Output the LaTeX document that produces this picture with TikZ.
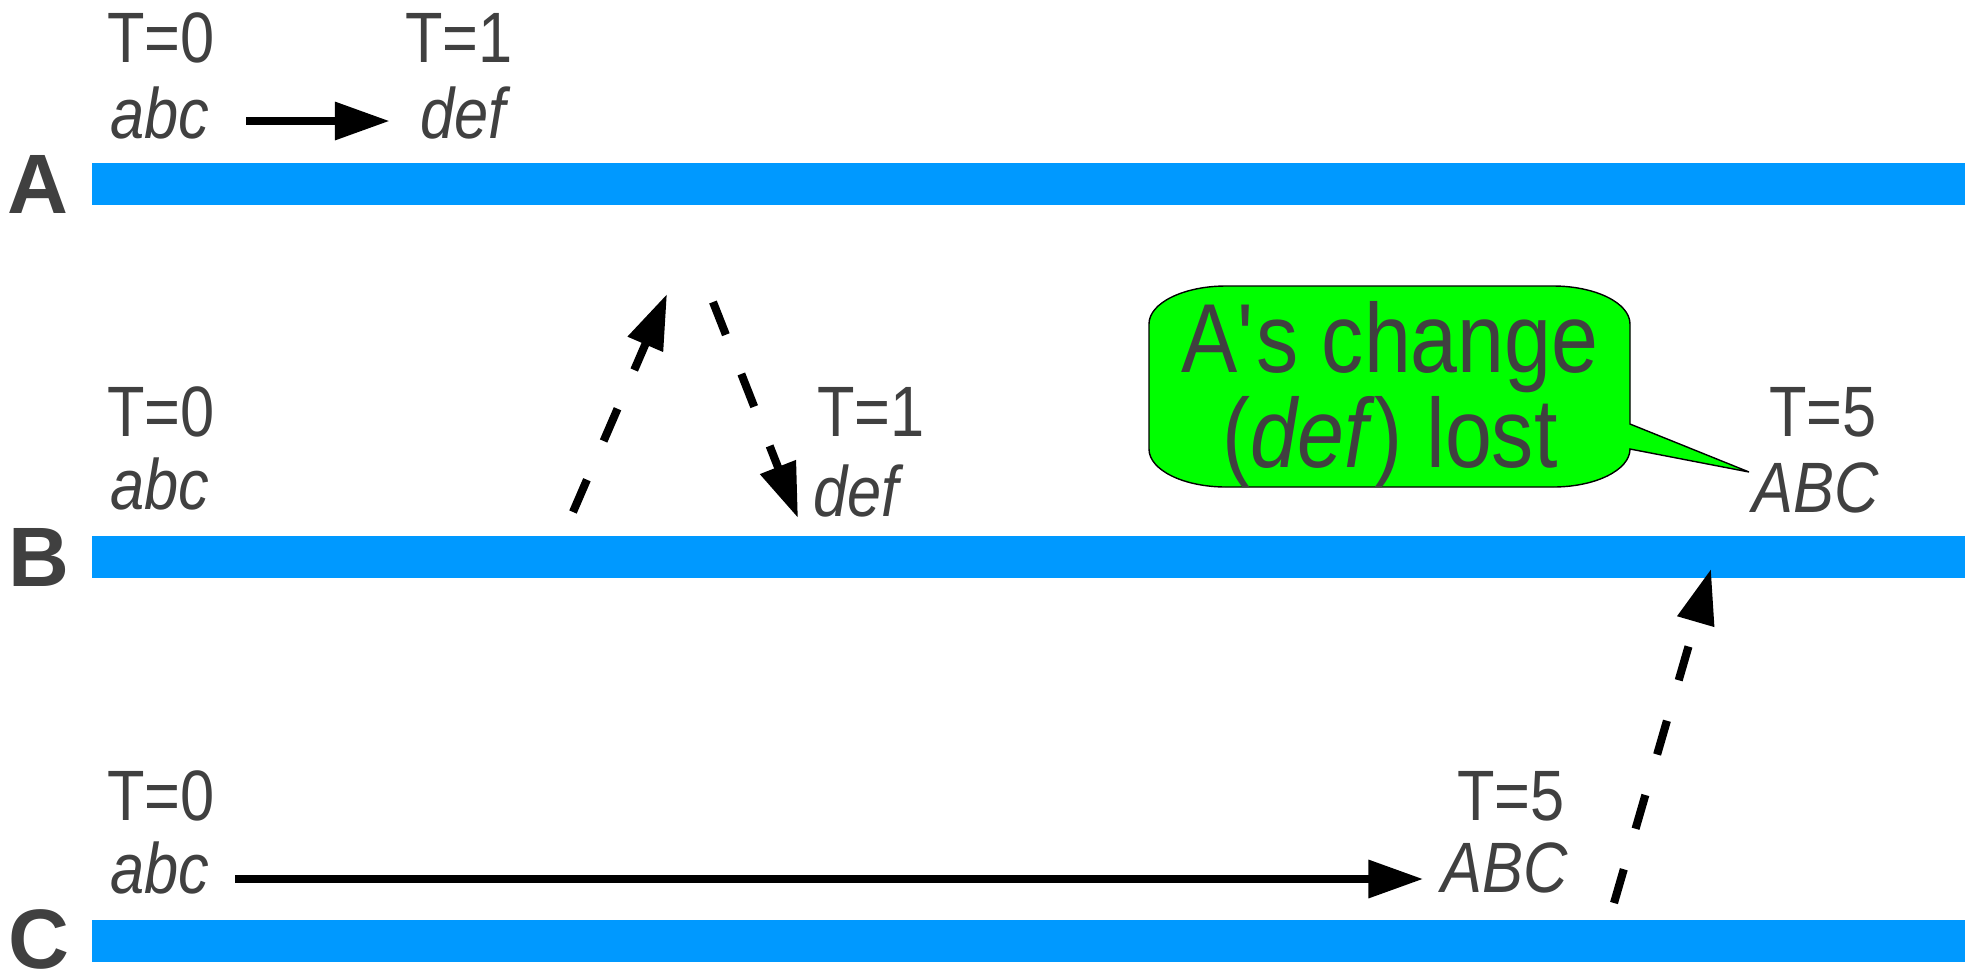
\documentclass[tikz,border=0pt]{standalone}
\usepackage{fontspec}
\setmainfont{Liberation Sans}
\newfontfamily\narrowsans[FakeStretch=0.86]{Liberation Sans}
\usetikzlibrary{arrows.meta}

\definecolor{lanecol}{HTML}{0099FF}
\definecolor{txtcol}{HTML}{404040}
\definecolor{notecol}{HTML}{00FF00}

\tikzset{
  lbl/.style={inner sep=0pt, text=txtcol, font=\narrowsans\fontsize{20.3}{22}\selectfont},
  val/.style={inner sep=0pt, text=txtcol, font=\narrowsans\fontsize{20.3}{22}\selectfont\itshape},
  host/.style={inner sep=0pt, text=txtcol, font=\fontsize{24}{26}\selectfont\bfseries},
  lane/.style={fill=lanecol},
  update/.style={line width=2.3pt, -{Triangle[length=15.6pt,width=10.4pt]}},
  sync/.style={line width=2.3pt, dash pattern=on 10pt off 12pt, -{Triangle[length=15.6pt,width=10.4pt]}},
  notetext/.style={inner sep=0pt, text=txtcol, align=center, font=\narrowsans\fontsize{27.9}{22.5}\selectfont},
}

\begin{document}
\begin{tikzpicture}
        \useasboundingbox (0,0) rectangle (19.73,-9.72);

        % the three replicas
        \fill[lane] (0.92,-1.63) rectangle (19.65,-2.05);
        \fill[lane] (0.92,-5.36) rectangle (19.65,-5.78);
        \fill[lane] (0.92,-9.20) rectangle (19.65,-9.62);
        \node[host](hostA) at (0.375,-1.845) {A};
        \node[host](hostB) at (0.39,-5.575) {B};
        \node[host](hostC) at (0.385,-9.39) {C};

        % replica A
        \node[lbl](tA0) at (1.61,-0.38) {T=0};
        \node[val](abcA) at (1.60,-1.13) {abc};
        \node[lbl](tA1) at (4.59,-0.38) {T=1};
        \node[val](defA) at (4.63,-1.13) {def};

        % replica B
        \node[lbl](tB0) at (1.61,-4.12) {T=0};
        \node[val](abcB) at (1.60,-4.84) {abc};
        \node[lbl](tB1) at (8.71,-4.12) {T=1};
        \node[val](defB) at (8.56,-4.91) {def};
        \node[lbl](tB5) at (18.23,-4.12) {T=5};
        \node[val](abcBig) at (18.16,-4.88) {ABC};

        % replica C
        \node[lbl](tC0) at (1.61,-7.96) {T=0};
        \node[val](abcC) at (1.60,-8.68) {abc};
        \node[lbl](tC5) at (15.11,-7.96) {T=5};
        \node[val](ABCc) at (15.05,-8.68) {ABC};

        \draw[update, shorten <=0.36cm, shorten >=0.30cm] ([yshift=-0.08cm]abcA.east) -- ([yshift=-0.08cm]defA.west);
        \draw[update, shorten <=0.25cm, shorten >=0.18cm] ([yshift=-0.11cm]abcC.east) -- ([yshift=-0.11cm]ABCc.west);

        \coordinate (bOut) at (5.73,-5.12);
        \coordinate (aIn) at (6.67,-2.94);
        \coordinate (aOut) at (7.13,-3.02);
        \coordinate (bIn) at (7.98,-5.18);
        \coordinate (cOut) at (16.14,-9.03);
        \coordinate (bLate) at (17.11,-5.69);
        \draw[sync] (bOut) -- (aIn);
        \draw[sync] (aOut) -- (bIn);
        \draw[sync] (cOut) -- (bLate);

        % callout
        \draw[fill=notecol, line width=0.4pt] (11.49,-3.24)
            arc[start angle=180, end angle=90, x radius=0.77, y radius=0.38] -- (15.53,-2.86)
            arc[start angle=90, end angle=0, x radius=0.77, y radius=0.38] -- (16.30,-4.24)
            -- (17.49,-4.72) -- (16.30,-4.49)
            arc[start angle=0, end angle=-90, x radius=0.77, y radius=0.38] -- (12.26,-4.87)
            arc[start angle=270, end angle=180, x radius=0.77, y radius=0.38] -- cycle;
        \node[notetext](lost) at (13.90,-3.95) {A\textquotesingle s change\\(\textit{def}) lost};
    \end{tikzpicture}
\end{document}
